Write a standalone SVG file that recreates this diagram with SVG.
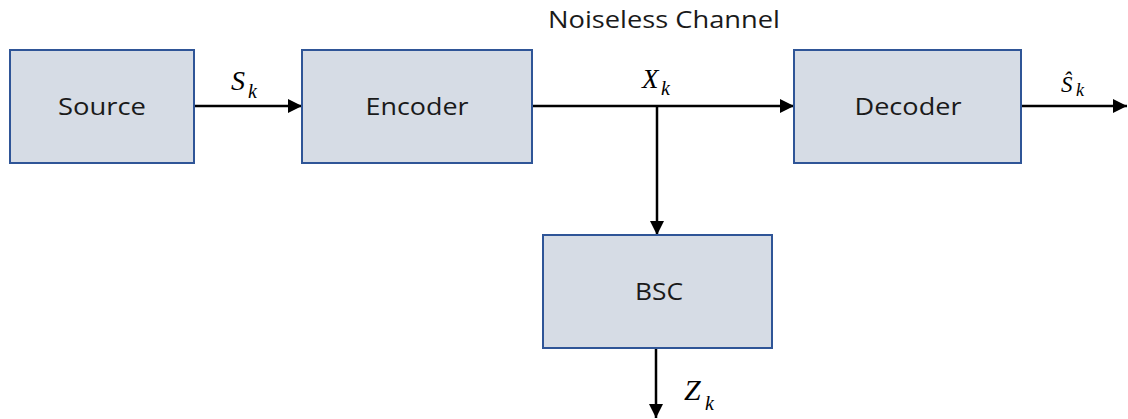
<svg xmlns="http://www.w3.org/2000/svg" width="1128" height="419" viewBox="0 0 1128 419">
<style>
.box{fill:#d6dce5;stroke:#2f5597;stroke-width:2}
.lbl{font-family:"Open Sans","Noto Sans",sans-serif;font-size:24px;fill:#1a1a1a;text-anchor:middle}
.m{font-family:"Liberation Serif",serif;font-style:italic;fill:#000}
.wire{stroke:#000;stroke-width:2.5;fill:none}
</style>
<defs>
<marker id="ah" markerUnits="userSpaceOnUse" markerWidth="14" markerHeight="14" viewBox="0 0 14 14" refX="14" refY="7" orient="auto">
<path d="M0,0 L14,7 L0,14 Z" fill="#000"/>
</marker>
</defs>
<rect width="1128" height="419" fill="#fff"/>
<g id="connectors">
<line class="wire" x1="194" y1="106" x2="302" y2="106" marker-end="url(#ah)"/>
<line class="wire" x1="532" y1="106" x2="794" y2="106" marker-end="url(#ah)"/>
<line class="wire" x1="657" y1="106" x2="657" y2="235" marker-end="url(#ah)"/>
<line class="wire" x1="1021" y1="106" x2="1127" y2="106" marker-end="url(#ah)"/>
<line class="wire" x1="656" y1="348" x2="656" y2="418" marker-end="url(#ah)"/>
</g>
<g id="source">
<rect class="box" x="10" y="50" width="184" height="113"/>
<text class="lbl" x="102" y="115" textLength="88" lengthAdjust="spacingAndGlyphs">Source</text>
</g>
<g id="encoder">
<rect class="box" x="302" y="50" width="230" height="113"/>
<text class="lbl" x="417" y="115" textLength="103" lengthAdjust="spacingAndGlyphs">Encoder</text>
</g>
<g id="decoder">
<rect class="box" x="794" y="50" width="227" height="113"/>
<text class="lbl" x="908" y="115" textLength="107" lengthAdjust="spacingAndGlyphs">Decoder</text>
</g>
<g id="bsc">
<rect class="box" x="543" y="235" width="229" height="113"/>
<text class="lbl" x="659" y="300" textLength="48" lengthAdjust="spacingAndGlyphs">BSC</text>
</g>
<g id="labels">
<text class="lbl" x="664" y="28" textLength="232" lengthAdjust="spacingAndGlyphs">Noiseless Channel</text>
<text class="m" x="231" y="90" font-size="28">S</text>
<text class="m" x="248" y="98" font-size="20">k</text>
<text class="m" x="642" y="88" font-size="27">X</text>
<text class="m" x="661" y="95" font-size="20">k</text>
<text class="m" x="1061" y="92" font-size="23">Ŝ</text>
<text class="m" x="1076" y="96" font-size="18">k</text>
<text class="m" x="684" y="400" font-size="30">Z</text>
<text class="m" x="705" y="410" font-size="20">k</text>
</g>
</svg>
